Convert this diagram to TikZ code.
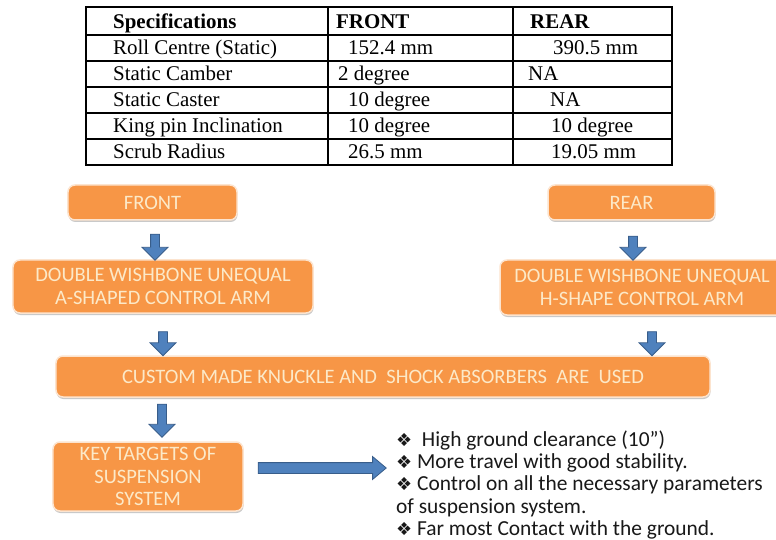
\documentclass[tikz,border=0pt]{standalone}
\usepackage{fontspec}
\usetikzlibrary{shapes.arrows,shadows}
\newfontfamily\carl{Carlito}
\newfontfamily\tnr{Liberation Serif}
\newfontfamily\dejavu{DejaVu Sans}
\definecolor{boxorange}{HTML}{F79646}
\definecolor{boxtext}{HTML}{FCE9C8}
\definecolor{arrowblue}{HTML}{4F81BD}
\definecolor{arrowedge}{HTML}{385D8A}
\definecolor{boxedge}{HTML}{FCE4CF}
\newcommand{\bul}{{\dejavu\fontsize{18}{18}\selectfont ❖}}
\begin{document}
\begin{tikzpicture}[x=1bp,y=-1bp,
  obox/.style={rectangle, rounded corners=7bp, fill=boxorange, draw=boxedge, line width=1.5bp,
    drop shadow={shadow xshift=0.5bp, shadow yshift=-2bp, opacity=0.35, fill=black!60},
    text=boxtext, font=\carl\fontsize{20.6}{22.5}\selectfont, align=center, inner sep=0pt},
  varrow/.style={single arrow, rotate=-90, fill=arrowblue, draw=arrowedge, line width=0.8bp,
    inner xsep=0pt, inner ysep=4bp, single arrow head extend=8.5bp, single arrow tip angle=90},
  harrow/.style={single arrow, fill=arrowblue, draw=arrowedge, line width=0.8bp,
    inner xsep=0pt, inner ysep=5bp, single arrow head extend=6bp, single arrow tip angle=80},
  tcell/.style={anchor=base west, inner sep=0pt, font=\tnr\fontsize{21}{24}\selectfont},
  tline/.style={line width=1.5bp, black}
]
\useasboundingbox (0,0) rectangle (776,540);
\fill[white] (0,0) rectangle (776,540);

% ---------- table ----------
\draw[tline, line width=2bp] (86,7) rectangle (672,165);
\foreach \yy in {35,61,87,113,139} \draw[tline] (86,\yy) -- (672,\yy);
\draw[tline] (328,7) -- (328,165);
\draw[tline] (513,7) -- (513,165);

\node[tcell] (h1) at (113,29) {\bfseries Specifications};
\node[tcell] (h2) at (336,29) {\bfseries FRONT};
\node[tcell] (h3) at (530,29) {\bfseries REAR};

\node[tcell] (r1a) at (113,55) {Roll Centre (Static)};
\node[tcell] (r1b) at (348,55) {152.4 mm};
\node[tcell] (r1c) at (553,55) {390.5 mm};

\node[tcell] (r2a) at (113,81) {Static Camber};
\node[tcell] (r2b) at (338,81) {2 degree};
\node[tcell] (r2c) at (528,81) {NA};

\node[tcell] (r3a) at (113,107) {Static Caster};
\node[tcell] (r3b) at (348,107) {10 degree};
\node[tcell] (r3c) at (550,107) {NA};

\node[tcell] (r4a) at (113,133) {King pin Inclination};
\node[tcell] (r4b) at (348,133) {10 degree};
\node[tcell] (r4c) at (551,133) {10 degree};

\node[tcell] (r5a) at (113,159) {Scrub Radius};
\node[tcell] (r5b) at (348,159) {26.5 mm};
\node[tcell] (r5c) at (551,159) {19.05 mm};

% ---------- flow boxes ----------
\node[obox, minimum width=169bp, minimum height=35bp] (front) at (152.5,202.5) {FRONT};
\node[obox, minimum width=300bp, minimum height=53bp] (fw) at (163,286.5)
  {DOUBLE WISHBONE UNEQUAL\\A-SHAPED CONTROL ARM};
\node[obox, minimum width=167bp, minimum height=35bp] (rear) at (631.5,202.5) {REAR};
\node[obox, minimum width=284bp, minimum height=55bp] (rw) at (642,287.5)
  {DOUBLE WISHBONE UNEQUAL\\H-SHAPE CONTROL ARM};
\node[obox, minimum width=654bp, minimum height=41bp] (mid) at (383,376.5)
  {CUSTOM MADE KNUCKLE AND\ \ SHOCK ABSORBERS\ \ ARE\ \ USED};
\node[obox, minimum width=190bp, minimum height=69bp] (key) at (148,476.5)
  {KEY TARGETS OF\\SUSPENSION\\SYSTEM};

% ---------- block arrows ----------
\node[varrow, minimum height=26bp] (a1) at (155,245) {};
\node[varrow, minimum height=24bp] (a2) at (163,341.5) {};
\node[varrow, minimum height=33bp] (a3) at (162,418.5) {};
\node[varrow, minimum height=24bp] (b1) at (633,246) {};
\node[varrow, minimum height=24bp] (b2) at (652,341.5) {};
\node[harrow, minimum height=128bp] (h) at (319,468) {};

% ---------- targets ----------
\node[anchor=west, inner sep=0pt, align=left, text=black!90,
      font=\carl\fontsize{21.5}{22.5}\selectfont] (targets) at (396,485)
 {\bul\ \ High ground clearance (10”)\\
  \bul\ More travel with good stability.\\
  \bul\ Control on all the necessary parameters\\
  of suspension system.\\
  \bul\ Far most Contact with the ground.};
\end{tikzpicture}
\end{document}
